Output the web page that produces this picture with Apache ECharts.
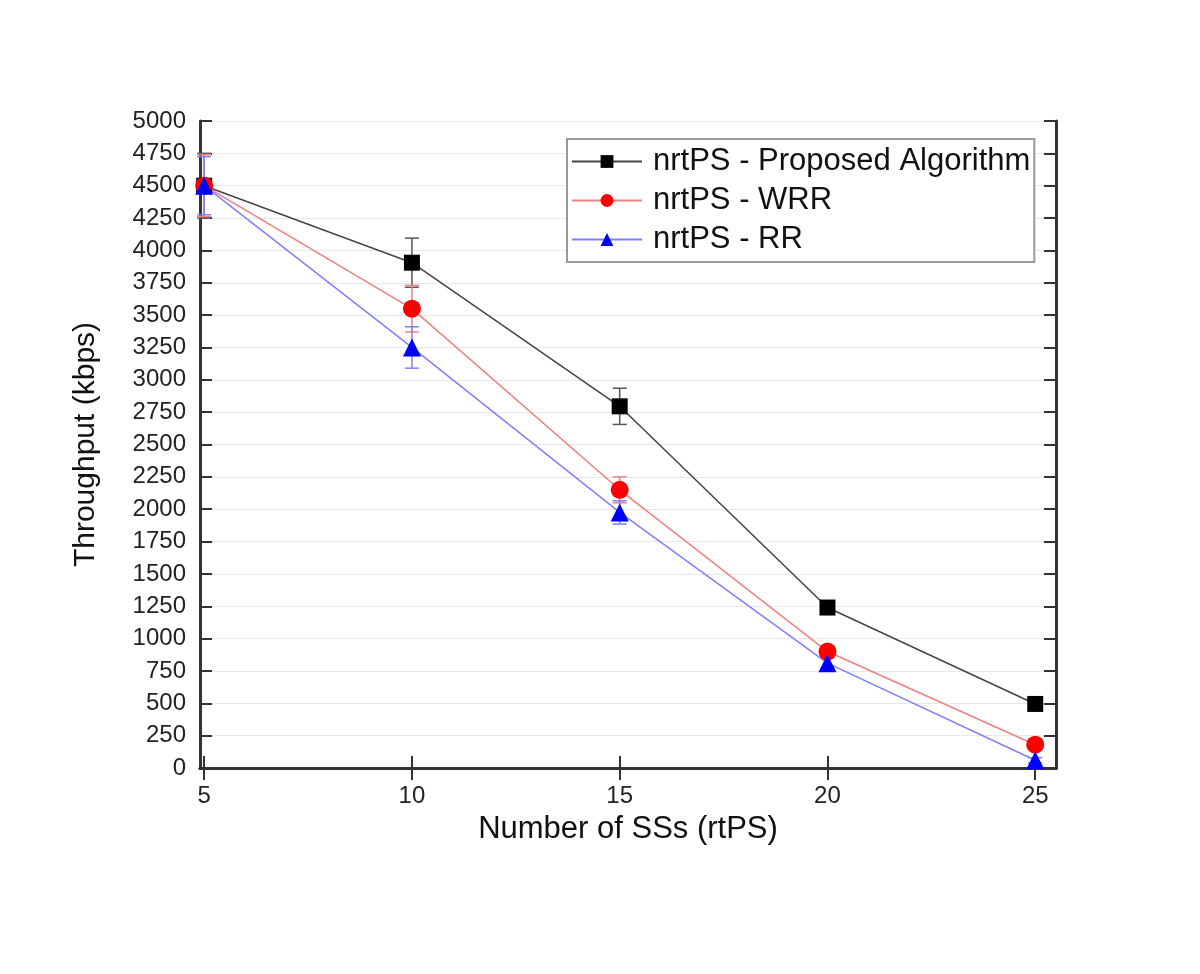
<!DOCTYPE html>
<html><head><meta charset="utf-8">
<script src="https://cdn.jsdelivr.net/npm/echarts@6/dist/echarts.min.js"></script>
<style>html,body{margin:0;padding:0;background:#fff}#c{width:1200px;height:974px}</style>
</head><body><div id="c"></div>
<script>
const xValues = [5, 10, 15, 20, 25];
const xTicks = [5, 10, 15, 20, 25];
const proposed = [4500, 3905, 2795, 1240, 495];
const proposedErr = [250, 190, 140, 50, 20];
const wrr = [4500, 3550, 2150, 900, 180];
const wrrErr = [240, 180, 100, 40, 20];
const rr = [4500, 3250, 1975, 810, 60];
const rrErr = [225, 160, 90, 40, 20];
const names = ['nrtPS - Proposed Algorithm', 'nrtPS - WRR', 'nrtPS - RR'];

const FONT = 'Liberation Sans, Arial, sans-serif';
const chart = echarts.init(document.getElementById('c'));

function pts(vals){ return xValues.map((x,i)=>[x, vals[i]]); }
function errData(vals, errs){ return xValues.map((x,i)=>[x, vals[i]-errs[i], vals[i]+errs[i]]); }
function errSeries(vals, errs, color){
  return {
    type: 'custom', silent: true, z: 1,
    data: errData(vals, errs),
    encode: {x: 0, y: [1, 2]},
    renderItem: function(params, api){
      const x = api.value(0);
      const lo = api.coord([x, api.value(1)]);
      const hi = api.coord([x, api.value(2)]);
      const w = 7;
      const st = {stroke: color, lineWidth: 1.5};
      return {type: 'group', children: [
        {type:'line', shape:{x1:lo[0], y1:lo[1], x2:hi[0], y2:hi[1]}, style: st},
        {type:'line', shape:{x1:lo[0]-w, y1:lo[1], x2:lo[0]+w, y2:lo[1]}, style: st},
        {type:'line', shape:{x1:hi[0]-w, y1:hi[1], x2:hi[0]+w, y2:hi[1]}, style: st}
      ]};
    }
  };
}

const axisLine = {show: true, lineStyle: {color: '#333', width: 3}};
const gridLine = {show: true, lineStyle: {color: '#e8e8e8', width: 1}};

chart.setOption({
  animation: false,
  grid: {left: 200, right: 144, top: 121, bottom: 206},
  legend: {
    orient: 'vertical', left: 567, top: 139,
    itemWidth: 70, itemHeight: 16, itemGap: 8,
    backgroundColor: '#fff', borderColor: '#999', borderWidth: 2,
    padding: [7, 4, 7, 4],
    textStyle: {fontFamily: FONT, fontSize: 31, color: '#111', padding: [0, 0, 0, 6]},
    data: names
  },
  xAxis: [{
    type: 'value', min: 4.9, max: 25.5,
    name: 'Number of SSs (rtPS)', nameLocation: 'middle', nameGap: 46,
    nameTextStyle: {fontFamily: FONT, fontSize: 31, color: '#111'},
    axisLine: axisLine,
    axisTick: {show: true, inside: true, length: 12, lineStyle: {color: '#333', width: 2}, customValues: xTicks},
    axisLabel: {fontFamily: FONT, fontSize: 24, color: '#222', margin: 16, customValues: xTicks},
    splitLine: {show: false}
  }, {
    type: 'value', min: 4.9, max: 25.5, position: 'top',
    axisLine: axisLine,
    axisTick: {show: true, inside: true, length: 12, lineStyle: {color: '#333', width: 2}, customValues: xTicks},
    axisLabel: {show: false, customValues: xTicks},
    splitLine: {show: false}
  }],
  yAxis: [{
    type: 'value', min: 0, max: 5000, interval: 250,
    name: 'Throughput (kbps)', nameLocation: 'middle', nameGap: 99,
    nameTextStyle: {fontFamily: FONT, fontSize: 30, color: '#111'},
    axisLine: axisLine,
    axisTick: {show: true, inside: true, length: 12, lineStyle: {color: '#333', width: 2}},
    axisLabel: {fontFamily: FONT, fontSize: 24, color: '#222', margin: 14, formatter: v => String(v)},
    splitLine: gridLine
  }, {
    type: 'value', min: 0, max: 5000, interval: 250, position: 'right',
    axisLine: axisLine,
    axisTick: {show: true, inside: true, length: 12, lineStyle: {color: '#333', width: 2}},
    axisLabel: {show: false},
    splitLine: {show: false}
  }],
  series: [
    errSeries(proposed, proposedErr, '#555'),
    errSeries(wrr, wrrErr, '#f08080'),
    errSeries(rr, rrErr, '#8080ff'),
    {
      name: names[0], type: 'line', data: pts(proposed), z: 3,
      symbol: 'rect', symbolSize: 16,
      lineStyle: {color: '#444', width: 1.5},
      itemStyle: {color: '#000'}
    },
    {
      name: names[1], type: 'line', data: pts(wrr), z: 3,
      symbol: 'circle', symbolSize: 18,
      lineStyle: {color: '#f08080', width: 1.5},
      itemStyle: {color: '#ff0000'}
    },
    {
      name: names[2], type: 'line', data: pts(rr), z: 3,
      symbol: 'triangle', symbolSize: 18,
      lineStyle: {color: '#7f7fff', width: 1.5},
      itemStyle: {color: '#0000ff'}
    }
  ]
});
</script></body></html>
